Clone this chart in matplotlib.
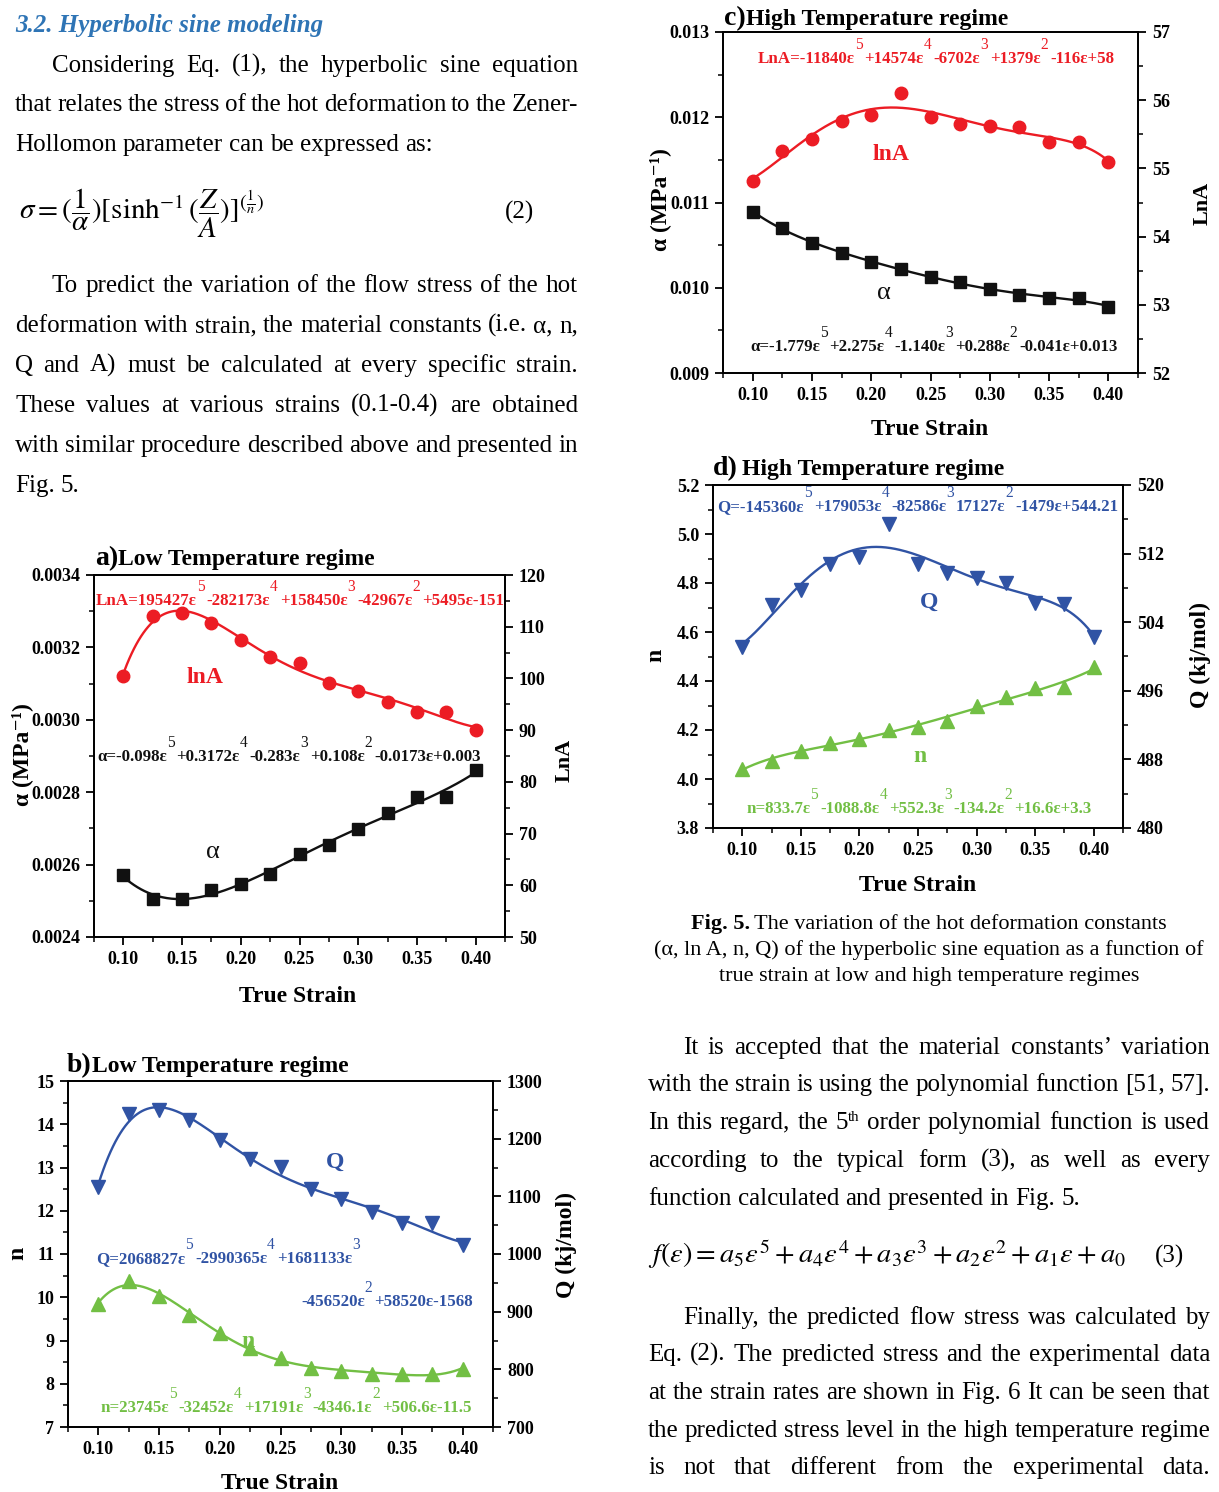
import numpy as np
import matplotlib
matplotlib.use("Agg")
import matplotlib.pyplot as plt
from matplotlib.ticker import MultipleLocator, FormatStrFormatter
from matplotlib.transforms import IdentityTransform

W, H = 1219, 1492
plt.rcParams['font.family'] = ['Liberation Serif', 'DejaVu Serif']
plt.rcParams['mathtext.fontset'] = 'stix'

RED = '#ec1c24'
BLUE = '#3053a4'
GREEN = '#72bf44'
BLACK = '#111111'
HEAD = '#2e74b5'

strain = [0.10, 0.125, 0.15, 0.175, 0.20, 0.225, 0.25, 0.275, 0.30, 0.325, 0.35, 0.375, 0.40]

# a) low temperature regime : alpha (left axis), lnA (right axis)
a_alpha = [0.002571, 0.002506, 0.002506, 0.002529, 0.002547, 0.002575, 0.002628,
           0.002654, 0.002697, 0.002743, 0.002786, 0.002786, 0.002862]
a_lna = [100.5, 112.1, 112.6, 110.7, 107.5, 104.2, 102.9, 99.2, 97.6, 95.5, 93.6, 93.6, 90.1]
# b) low temperature regime : n (left), Q (right)
b_n = [9.84, 10.38, 10.04, 9.58, 9.17, 8.83, 8.60, 8.37, 8.29, 8.23, 8.23, 8.23, 8.35]
b_q = [1116, 1242, 1249, 1232, 1197, 1165, 1151, 1112, 1095, 1073, 1053, 1053, 1015]
# c) high temperature regime : alpha (left), lnA (right)
c_alpha = [0.01089, 0.010706, 0.01053, 0.010404, 0.010306, 0.010216, 0.010129,
           0.010067, 0.009984, 0.009914, 0.009878, 0.009878, 0.009776]
c_lna = [54.82, 55.26, 55.43, 55.70, 55.79, 56.11, 55.75, 55.65, 55.62, 55.60, 55.39, 55.39, 55.10]
# d) high temperature regime : n (left), Q (right)
d_n = [4.042, 4.074, 4.114, 4.145, 4.164, 4.198, 4.212, 4.236, 4.297, 4.335, 4.371, 4.375, 4.457]
d_q = [501.1, 506.0, 507.7, 510.75, 511.6, 515.4, 510.75, 509.7, 509.2, 508.6, 506.2, 506.1, 502.3]

# fitted equations printed in the panels (term, exponent)
a_lna_eq = [("LnA=195427ε", "5"), ("-282173ε", "4"), ("+158450ε", "3"), ("-42967ε", "2"), ("+5495ε-151", "")]
a_alpha_eq = [("α=-0.098ε", "5"), ("+0.3172ε", "4"), ("-0.283ε", "3"), ("+0.108ε", "2"), ("-0.0173ε+0.003", "")]
b_q_eq1 = [("Q=2068827ε", "5"), ("-2990365ε", "4"), ("+1681133ε", "3")]
b_q_eq2 = [("-456520ε", "2"), ("+58520ε-1568", "")]
b_n_eq = [("n=23745ε", "5"), ("-32452ε", "4"), ("+17191ε", "3"), ("-4346.1ε", "2"), ("+506.6ε-11.5", "")]
c_lna_eq = [("LnA=-11840ε", "5"), ("+14574ε", "4"), ("-6702ε", "3"), ("+1379ε", "2"), ("-116ε+58", "")]
c_alpha_eq = [("α=-1.779ε", "5"), ("+2.275ε", "4"), ("-1.140ε", "3"), ("+0.288ε", "2"), ("-0.041ε+0.013", "")]
d_q_eq = [("Q=-145360ε", "5"), ("+179053ε", "4"), ("-82586ε", "3"), ("17127ε", "2"), ("-1479ε+544.21", "")]
d_n_eq = [("n=833.7ε", "5"), ("-1088.8ε", "4"), ("+552.3ε", "3"), ("-134.2ε", "2"), ("+16.6ε+3.3", "")]

left_par1 = ["Considering Eq. (1), the hyperbolic sine equation",
             "that relates the stress of the hot deformation to the Zener-",
             "Hollomon parameter can be expressed as:"]
left_par2 = ["To predict the variation of the flow stress of the hot",
             "deformation with strain, the material constants (i.e. α, n,",
             "Q and A) must be calculated at every specific strain.",
             "These values at various strains (0.1-0.4) are obtained",
             "with similar procedure described above and presented in",
             "Fig. 5."]
right_par1 = ["It is accepted that the material constants’ variation",
              "with the strain is using the polynomial function [51, 57].",
              "In this regard, the 5^th order polynomial function is used",
              "according to the typical form (3), as well as every",
              "function calculated and presented in Fig. 5."]
right_par2 = ["Finally, the predicted flow stress was calculated by",
              "Eq. (2). The predicted stress and the experimental data",
              "at the strain rates are shown in Fig. 6 It can be seen that",
              "the predicted stress level in the high temperature regime",
              "is not that different from the experimental data."]

fig = plt.figure(figsize=(W / 100, H / 100), dpi=100)
rend = fig.canvas.get_renderer()
PX = IdentityTransform()


def put(x, y, s, **kw):
    kw.setdefault('va', 'baseline')
    return fig.text(x, H - y, s, transform=PX, **kw)


def wid(t):
    return t.get_window_extent(rend).width


def put_runs(x, y, parts, ha='left', color='k'):
    # parts: (text, size, weight, rise, gap_after)
    ts = [put(0, y - rise, s, fontsize=sz, fontweight=wt, color=color) for s, sz, wt, rise, g in parts]
    ws = [wid(t) + p[4] for t, p in zip(ts, parts)]
    tot = sum(ws)
    if ha == 'center':
        x -= tot / 2
    elif ha == 'right':
        x -= tot
    for t, w in zip(ts, ws):
        t.set_x(x)
        x += w


def poly_label(x, y, terms, color, size=12.2, ha='center'):
    parts = []
    for base, sup in terms:
        parts.append((base, size, 'bold', 0, 0))
        if sup:
            parts.append((sup, size - 1, 'normal', 14, 2))
    put_runs(x, y, parts, ha, color)


def body_line(y, x0, text, x1=None, size=18):
    items = []
    for w in text.split(' '):
        if '^' in w:
            b, s = w.split('^')
            tb = put(0, y, b, fontsize=size)
            ts = put(0, y - 8, s, fontsize=size * 0.6)
            items.append(([tb, ts], wid(tb) + wid(ts)))
        else:
            t = put(0, y, w, fontsize=size)
            items.append(([t], wid(t)))
    total = sum(w for _, w in items)
    gap = (x1 - x0 - total) / (len(items) - 1) if x1 else size * 0.25 * 100 / 72
    x = x0
    for ts, w in items:
        xx = x
        for t in ts:
            t.set_x(xx)
            xx += wid(t)
        x += w + gap


def paragraph(lines, x0, x1, ys, indent, last_justified=False):
    for i, (s, y) in enumerate(zip(lines, ys)):
        ragged = i == len(lines) - 1 and not last_justified
        body_line(y, x0 + (indent if i == 0 else 0), s, None if ragged else x1)


# ---- text of the page ----
put(15, 32, "3.2. Hyperbolic sine modeling", fontsize=18, fontweight='bold', style='italic', color=HEAD)
paragraph(left_par1, 15, 578, [72, 111, 151], 37)
put(19, 213, r'$\sigma=(\dfrac{1}{\alpha})[\sinh^{-1}(\dfrac{Z}{A})]^{(\frac{1}{n})}$',
    fontsize=21, va='center')
put(519, 219, "(2)", ha='center', fontsize=18)
paragraph(left_par2, 15, 578, [292, 332, 372, 412, 452, 492], 37)

put_runs(929, 929, [("Fig. 5.", 16, 'bold', 0, 4),
                    ("The variation of the hot deformation constants", 16, 'normal', 0, 0)], ha='center')
put(929, 955, "(α, ln A, n, Q) of the hyperbolic sine equation as a function of", ha='center', fontsize=16)
put(929, 981, "true strain at low and high temperature regimes", ha='center', fontsize=16)
paragraph(right_par1, 648, 1210, [1054, 1091, 1129, 1167, 1205], 35)
put(648, 1263, r'$f(\varepsilon)=a_5\varepsilon^5+a_4\varepsilon^4+a_3\varepsilon^3+a_2\varepsilon^2+a_1\varepsilon+a_0$',
    fontsize=20.5)
put(1169, 1263, "(3)", ha='center', fontsize=18)
paragraph(right_par2, 648, 1210, [1324, 1361, 1399, 1437, 1474], 35, last_justified=True)


# ---- charts ----
def panel(l, r, t, b, ylim, ymaj, ymin, yfmt, ylim2, ymaj2, ymin2):
    ax = fig.add_axes([l / W, 1 - b / H, (r - l) / W, (b - t) / H])
    ax2 = ax.twinx()
    ax.set_xlim(0.075, 0.425)
    ax.xaxis.set_major_locator(MultipleLocator(0.05))
    ax.xaxis.set_minor_locator(MultipleLocator(0.025))
    ax.xaxis.set_major_formatter(FormatStrFormatter('%.2f'))
    ax.set_ylim(*ylim)
    ax.yaxis.set_major_locator(MultipleLocator(ymaj))
    ax.yaxis.set_minor_locator(MultipleLocator(ymin))
    ax.yaxis.set_major_formatter(FormatStrFormatter(yfmt))
    ax2.set_ylim(*ylim2)
    ax2.yaxis.set_major_locator(MultipleLocator(ymaj2))
    ax2.yaxis.set_minor_locator(MultipleLocator(ymin2))
    ax2.yaxis.set_major_formatter(FormatStrFormatter('%d'))
    for a in (ax, ax2):
        a.tick_params(which='major', direction='out', length=6, width=1.3, labelsize=13, pad=4)
        a.tick_params(which='minor', direction='out', length=3.5, width=1.1)
        for sp in a.spines.values():
            sp.set_linewidth(1.3)
    for lab in ax.get_xticklabels() + ax.get_yticklabels() + ax2.get_yticklabels():
        lab.set_fontweight('bold')
    return ax, ax2


def series(a, y, marker, color, ms):
    coef = np.polyfit(strain, y, 5)
    xs = np.linspace(strain[0], strain[-1], 300)
    a.plot(xs, np.polyval(coef, xs), color=color, lw=1.7)
    a.plot(strain, y, marker, color=color, ms=ms, ls='none', clip_on=False)


def title(x, y, tag, text, gap=0):
    put_runs(x, y, [(tag, 20, 'bold', 0, gap), (text, 17, 'bold', 0, 0)])


B = dict(fontweight='bold')

# a)
ax, ax2 = panel(94, 505, 575, 937, (0.0024, 0.0034), 0.0002, 0.0001, '%.4f', (50, 120), 10, 5)
series(ax, a_alpha, 's', BLACK, 8)
series(ax2, a_lna, 'o', RED, 9)
title(95, 565, "a)", "Low Temperature regime")
poly_label(300, 605, a_lna_eq, RED)
poly_label(289, 761, a_alpha_eq, BLACK)
put(205, 683, "lnA", ha='center', fontsize=17, color=RED, **B)
put(213, 858, "α", ha='center', fontsize=19, color=BLACK)
put(298, 1002, "True Strain", ha='center', fontsize=17, **B)
put(22, 755, "α (MPa⁻¹)", ha='center', va='center', rotation=90, fontsize=17, **B)
put(565, 760, "LnA", ha='center', va='center', rotation=90, fontsize=16, **B)

# b)
ax, ax2 = panel(68, 493, 1081, 1427, (7, 15), 1, 0.5, '%d', (700, 1300), 100, 50)
series(ax, b_n, '^', GREEN, 10)
series(ax2, b_q, 'v', BLUE, 10)
title(67, 1072, "b)", "Low Temperature regime")
poly_label(96, 1263, b_q_eq1, BLUE, ha='left')
poly_label(473, 1306, b_q_eq2, BLUE, ha='right')
poly_label(286, 1412, b_n_eq, GREEN)
put(335, 1168, "Q", ha='center', fontsize=17, color=BLUE, **B)
put(248, 1347, "n", ha='center', fontsize=17, color=GREEN, **B)
put(280, 1489, "True Strain", ha='center', fontsize=17, **B)
put(18, 1253, "n", ha='center', va='center', rotation=90, fontsize=17, **B)
put(566, 1245, "Q (kj/mol)", ha='center', va='center', rotation=90, fontsize=17, **B)

# c)
ax, ax2 = panel(723, 1138, 32, 373, (0.009, 0.013), 0.001, 0.0005, '%.3f', (52, 57), 1, 0.5)
series(ax, c_alpha, 's', BLACK, 8)
series(ax2, c_lna, 'o', RED, 9)
title(724, 25, "c)", "High Temperature regime")
poly_label(936, 63, c_lna_eq, RED)
poly_label(934, 351, c_alpha_eq, BLACK)
put(891, 160, "lnA", ha='center', fontsize=17, color=RED, **B)
put(884, 299, "α", ha='center', fontsize=19, color=BLACK)
put(930, 435, "True Strain", ha='center', fontsize=17, **B)
put(660, 200, "α (MPa⁻¹)", ha='center', va='center', rotation=90, fontsize=17, **B)
put(1203, 203, "LnA", ha='center', va='center', rotation=90, fontsize=16, **B)

# d)
ax, ax2 = panel(713, 1123, 485, 828, (3.8, 5.2), 0.2, 0.1, '%.1f', (480, 520), 8, 4)
series(ax, d_n, '^', GREEN, 10)
series(ax2, d_q, 'v', BLUE, 10)
title(713, 475, "d)", "High Temperature regime", gap=4)
poly_label(918, 511, d_q_eq, BLUE)
poly_label(919, 813, d_n_eq, GREEN)
put(929, 608, "Q", ha='center', fontsize=17, color=BLUE, **B)
put(920, 762, "n", ha='center', fontsize=17, color=GREEN, **B)
put(918, 891, "True Strain", ha='center', fontsize=17, **B)
put(656, 655, "n", ha='center', va='center', rotation=90, fontsize=17, **B)
put(1200, 655, "Q (kj/mol)", ha='center', va='center', rotation=90, fontsize=17, **B)

fig.savefig("out.png", dpi=100)
